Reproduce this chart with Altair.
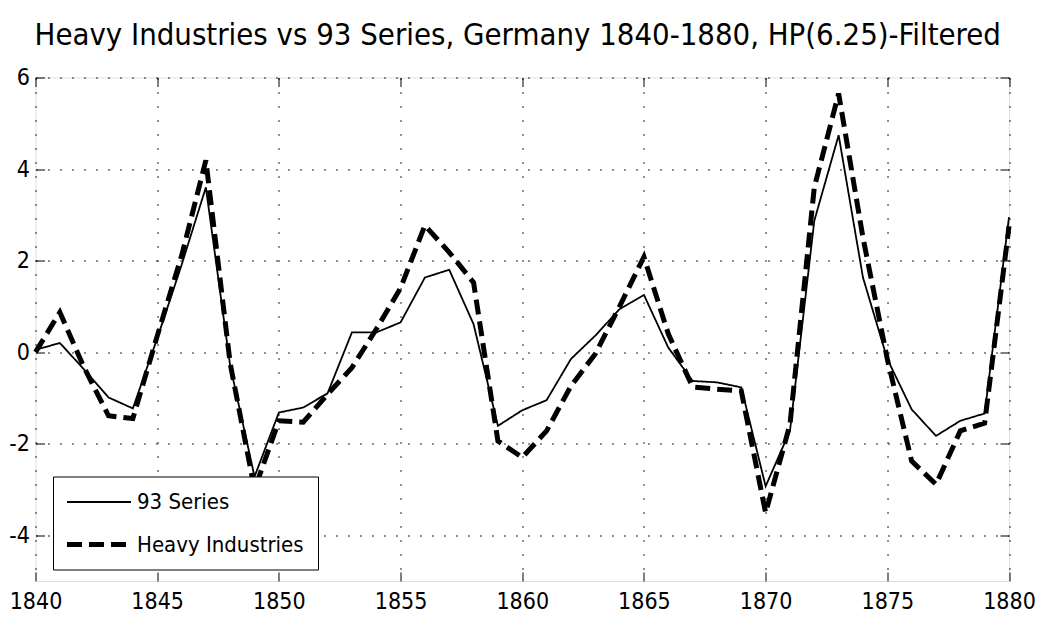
import altair as alt
import pandas as pd

years = list(range(1840, 1881))
series_93 = [0.05, 0.2, -0.38, -0.99, -1.23, 0.3, 1.9, 3.6, -0.3, -2.72,
             -1.32, -1.21, -0.9, 0.43, 0.43, 0.65, 1.63, 1.8, 0.61, -1.61,
             -1.27, -1.05, -0.15, 0.36, 0.94, 1.25, 0.1, -0.63, -0.66, -0.77,
             -2.93, -1.72, 2.87, 4.74, 1.63, -0.15, -1.25, -1.83, -1.5, -1.34,
             2.95]
heavy_industries = [0.0, 0.87, -0.34, -1.39, -1.45, 0.35, 2.1, 4.19, -0.25, -3.0,
                    -1.5, -1.53, -0.92, -0.34, 0.5, 1.4, 2.77, 2.18, 1.52, -1.94,
                    -2.3, -1.72, -0.74, -0.04, 1.0, 2.08, 0.4, -0.76, -0.81, -0.85,
                    -3.51, -1.58, 3.6, 5.65, 2.5, -0.15, -2.38, -2.89, -1.72, -1.55,
                    2.75]
series_names = ["93 Series", "Heavy Industries"]
x_ticks = [1840, 1845, 1850, 1855, 1860, 1865, 1870, 1875, 1880]
y_ticks = [-4, -2, 0, 2, 4, 6]
title_text = "Heavy Industries vs 93 Series, Germany 1840-1880, HP(6.25)-Filtered"

df = pd.DataFrame({
    "year": years * 2,
    "value": series_93 + heavy_industries,
    "series": [series_names[0]] * len(years) + [series_names[1]] * len(years),
})

FONT = "DejaVu Sans Condensed, sans-serif"
TICK = 9

x_scale = alt.Scale(domain=[1840, 1880], nice=False, zero=False)
y_scale = alt.Scale(domain=[-5, 6], nice=False, zero=False)

legend = alt.Legend(
    title=None, orient="none", legendX=17.5, legendY=399,
    fillColor="white", strokeColor="black", cornerRadius=0, padding=14,
    symbolType="M-3.05,0H3.05", symbolSize=441, symbolOffset=19,
    symbolStrokeColor="black", labelOffset=25, labelLimit=400,
    labelFont=FONT, labelFontSize=22, labelColor="black", rowPadding=18,
)

lines = alt.Chart(df).mark_line(color="black").encode(
    x=alt.X("year:Q", scale=x_scale, axis=alt.Axis(
        orient="bottom", values=x_ticks, format="d", title=None,
        offset=-TICK, tickSize=TICK, domain=False, grid=True,
        gridDash=[2, 12], gridColor="#222", gridWidth=1,
        tickColor="black", labelPadding=9, labelFlush=False,
        labelFont=FONT, labelFontSize=23, labelColor="black", labelOverlap=False)),
    y=alt.Y("value:Q", scale=y_scale, axis=alt.Axis(
        orient="left", values=y_ticks, title=None,
        labelExpr="datum.value < 0 ? '-' + (-datum.value) : '' + datum.value",
        offset=-TICK, tickSize=TICK, domain=False, grid=True,
        gridDash=[2, 10], gridColor="#222", gridWidth=1,
        tickColor="black", labelPadding=6, labelFlush=False,
        labelFont=FONT, labelFontSize=23, labelColor="black", labelOverlap=False)),
    strokeDash=alt.StrokeDash("series:N", scale=alt.Scale(
        domain=series_names, range=[[1, 0], [15, 7]]), legend=legend),
    strokeWidth=alt.StrokeWidth("series:N", scale=alt.Scale(
        domain=series_names, range=[1.8, 5]), legend=legend),
)

ticks = alt.Chart(df).mark_point(opacity=0).encode(
    x=alt.X("year:Q", scale=x_scale, axis=alt.Axis(
        orient="top", values=x_ticks, labels=False, title=None,
        offset=-TICK, tickSize=TICK, domain=False, grid=False, tickColor="black")),
    y=alt.Y("value:Q", scale=y_scale, axis=alt.Axis(
        orient="right", values=y_ticks, labels=False, title=None,
        offset=-TICK, tickSize=TICK, domain=False, grid=False, tickColor="black")),
)

chart = alt.layer(lines, ticks).resolve_axis(
    x="independent", y="independent"
).properties(
    width=973.5, height=503.5,
    title=alt.TitleParams(title_text, font=FONT, fontSize=30.8, fontWeight="normal",
                          color="black", anchor="middle", offset=15, dx=-4.5),
    autosize=alt.AutoSizeParams(type="none"),
    padding={"left": 27.5, "top": 69.5, "right": 26, "bottom": 40},
).configure_view(
    stroke="black", strokeWidth=1
).configure(background="white")

chart.save("out.html", embed_options={"renderer": "svg", "actions": False})
